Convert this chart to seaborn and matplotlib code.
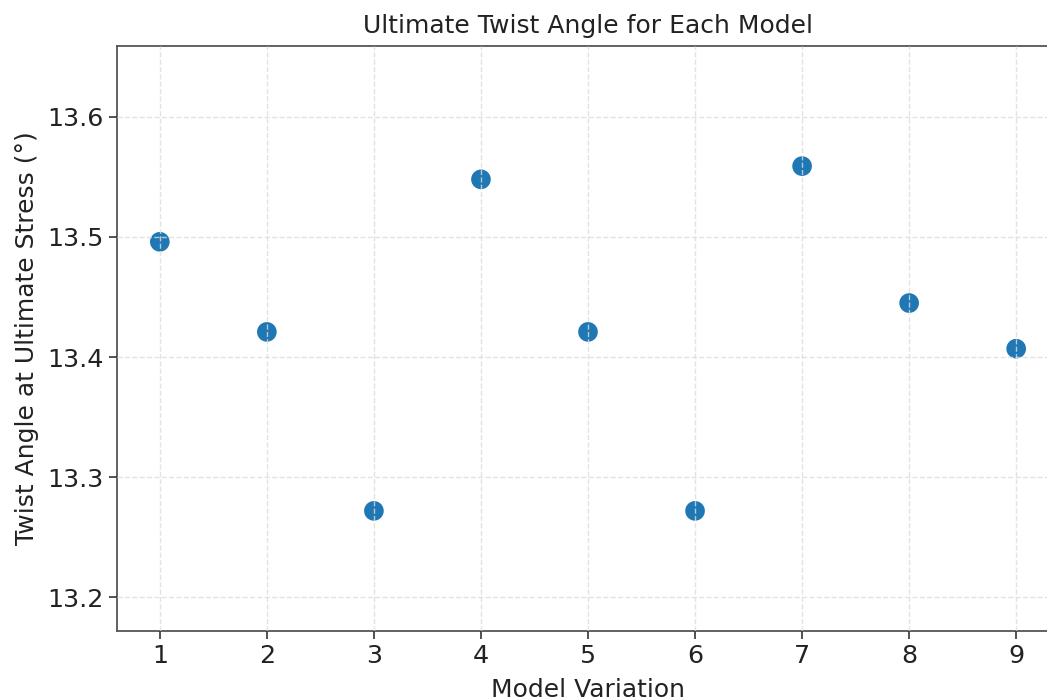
import matplotlib
matplotlib.use("Agg")
import matplotlib.pyplot as plt
import seaborn as sns
import pandas as pd

models = [1, 2, 3, 4, 5, 6, 7, 8, 9]
twist_angles = [13.496, 13.421, 13.272, 13.548, 13.421, 13.272, 13.559, 13.445, 13.407]

df = pd.DataFrame({"Model Variation": models, "Twist Angle": twist_angles})

sns.set_theme(style="ticks")
plt.rcParams['font.family'] = ['DejaVu Sans']

fig = plt.figure(figsize=(10.47, 7.0), dpi=100)
ax = fig.add_axes([117/1047, (700-631)/700, (1059-117)/1047, (631-46)/700])

sns.scatterplot(data=df, x="Model Variation", y="Twist Angle", ax=ax,
                s=200, color="#1f77b4", edgecolor="none", zorder=2)

ax.set_xlim(0.6, 9.4)
ax.set_ylim(min(twist_angles) - 0.1, max(twist_angles) + 0.1)
ax.set_xticks(models)
ax.set_yticks([13.2, 13.3, 13.4, 13.5, 13.6])
ax.grid(True, linestyle="--", color="#dddddd", linewidth=1.0, alpha=0.8, zorder=3)
ax.set_axisbelow(False)

for sp in ax.spines.values():
    sp.set_color("#555555")
    sp.set_linewidth(1.3)
    sp.set_visible(True)

ax.tick_params(axis="both", labelsize=18.3, color="#333333", length=6, width=1.2, labelcolor="#222222")
ax.set_xlabel("Model Variation", fontsize=18, color="#222222", labelpad=7)
ax.set_ylabel("Twist Angle at Ultimate Stress (°)", fontsize=18, color="#222222", labelpad=6)
ax.set_title("Ultimate Twist Angle for Each Model", fontsize=18, color="#222222", pad=9)

fig.savefig("out.png", dpi=100)
